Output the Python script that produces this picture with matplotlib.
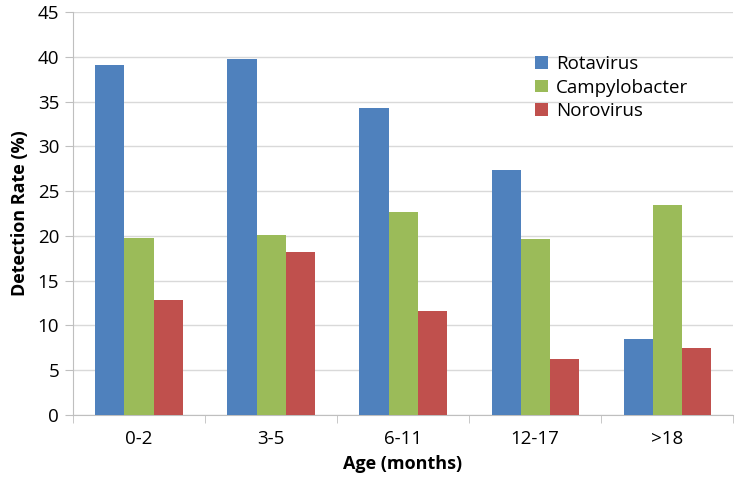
import matplotlib.pyplot as plt
import numpy as np

plt.rcParams['font.family'] = ['Open Sans', 'DejaVu Sans']

ages = ['0-2', '3-5', '6-11', '12-17', '>18']
rotavirus = [39.1, 39.8, 34.3, 27.3, 8.5]
campylobacter = [19.8, 20.1, 22.7, 19.6, 23.4]
norovirus = [12.8, 18.2, 11.6, 6.2, 7.5]
series_names = ['Rotavirus', 'Campylobacter', 'Norovirus']
series_colors = ['#4F81BD', '#9BBB59', '#C0504D']

fig = plt.figure(figsize=(7.39, 4.91), dpi=100)
ax = fig.add_axes([0.0988, 0.1548, 0.8932, 0.8208])

x = np.arange(len(ages))
w = 0.22
for i, (vals, name, col) in enumerate(zip([rotavirus, campylobacter, norovirus], series_names, series_colors)):
    ax.bar(x + (i - 1) * w, vals, width=w, color=col, label=name, zorder=3)

ax.set_xlim(-0.5, len(ages) - 0.5)
ax.set_ylim(0, 45)
ax.set_yticks(range(0, 46, 5))
ax.set_xticks(x)
ax.set_xticklabels(ages)
ax.set_xticks(np.arange(-0.5, len(ages), 1), minor=True)
ax.tick_params(axis='x', which='major', length=0, labelsize=13.5, pad=11)
ax.tick_params(axis='x', which='minor', length=6, color='#bfbfbf')
ax.tick_params(axis='y', length=6, color='#bfbfbf', labelsize=13.5, pad=4)
ax.yaxis.grid(True, color='#d9d9d9', linewidth=1, zorder=0)
for s in ['top', 'right']:
    ax.spines[s].set_visible(False)
for s in ['left', 'bottom']:
    ax.spines[s].set_color('#bfbfbf')

ax.set_ylabel('Detection Rate (%)', fontsize=13, fontweight='bold', labelpad=6)
ax.set_xlabel('Age (months)', fontsize=13, fontweight='bold', labelpad=5)

ax.legend(loc='upper left', bbox_to_anchor=(0.675, 0.935), frameon=False, fontsize=13.5,
          handlelength=0.65, handleheight=0.65, handletextpad=0.45, labelspacing=0.3)

fig.savefig('out.png', dpi=100)
